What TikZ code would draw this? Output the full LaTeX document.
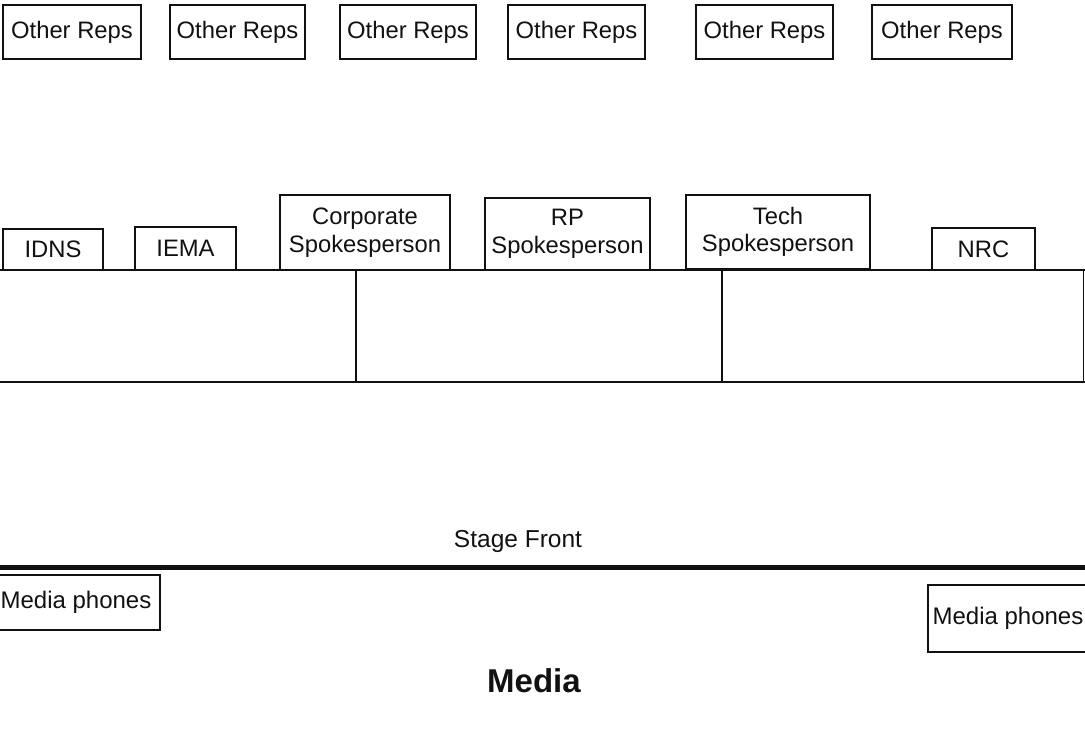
\documentclass[tikz,border=0pt]{standalone}
\usepackage{fontspec}
\setmainfont{Liberation Sans}
\usetikzlibrary{positioning}
\definecolor{ink}{RGB}{17,17,17}
\tikzset{
  rep/.style={draw=ink, line width=1.2pt, align=center, inner sep=0pt, text=ink,
              font=\fontsize{23.8}{27.5}\selectfont},
  lbl/.style={align=center, inner sep=0pt, text=ink, font=\fontsize{24.5}{28}\selectfont},
  stageline/.style={draw=ink, line width=1.2pt},
  edge/.style={draw=ink, line width=5pt},
}
\begin{document}
\begin{tikzpicture}[x=1pt, y=-1pt]
  \useasboundingbox (0,0) rectangle (1085,729);

  % other reps, back row
  \node[rep, minimum width=138pt, minimum height=54pt] (rep1) at (72,32) {Other Reps};
  \node[rep, minimum width=135pt, minimum height=54pt] (rep2) at (237.5,32) {Other Reps};
  \node[rep, minimum width=136pt, minimum height=54pt] (rep3) at (408,32) {Other Reps};
  \node[rep, minimum width=137pt, minimum height=54pt] (rep4) at (576.5,32) {Other Reps};
  \node[rep, minimum width=137pt, minimum height=54pt] (rep5) at (764.5,32) {Other Reps};
  \node[rep, minimum width=140pt, minimum height=54pt] (rep6) at (942,32) {Other Reps};

  % stage tables
  \coordinate (tl) at (0,270);
  \coordinate (tr) at (1085,270);
  \coordinate (bl) at (0,382);
  \coordinate (br) at (1085,382);
  \draw[stageline] (tl) -- (tr);
  \draw[stageline] (bl) -- (br);
  \draw[stageline] (356,270) -- (356,382);
  \draw[stageline] (722,270) -- (722,382);
  \draw[stageline, line width=0.8pt] (1083,270) -- (1083,382);

  % seated on the stage
  \node[rep, minimum width=100pt, minimum height=41pt] (idns) at (53,249.5) {IDNS};
  \node[rep, minimum width=101pt, minimum height=43pt] (iema) at (185.5,248.5) {IEMA};
  \node[rep, minimum width=170pt, minimum height=75pt] (corp) at (365,232.5) {Corporate\\Spokesperson};
  \node[rep, minimum width=165pt, minimum height=72pt] (rp) at (567.5,234) {RP\\Spokesperson};
  \node[rep, minimum width=184pt, minimum height=74pt] (tech) at (778,232) {Tech\\Spokesperson};
  \node[rep, minimum width=103pt, minimum height=42pt] (nrc) at (983.5,249) {NRC};

  \node[lbl] (front) at (518,541) {Stage Front};
  \coordinate (el) at (0,567);
  \coordinate (er) at (1085,567);
  \draw[edge] (el) -- (er);

  % media area
  \node[rep, font=\fontsize{24}{28}\selectfont, minimum width=168pt, minimum height=55pt] (mp1) at (76,602.5) {Media phones};
  \node[rep, font=\fontsize{24}{28}\selectfont, minimum width=160pt, minimum height=67pt] (mp2) at (1008,618.5) {Media phones};
  \node[lbl, font=\fontsize{33}{38}\selectfont\bfseries] (media) at (534,681) {Media};
\end{tikzpicture}
\end{document}
